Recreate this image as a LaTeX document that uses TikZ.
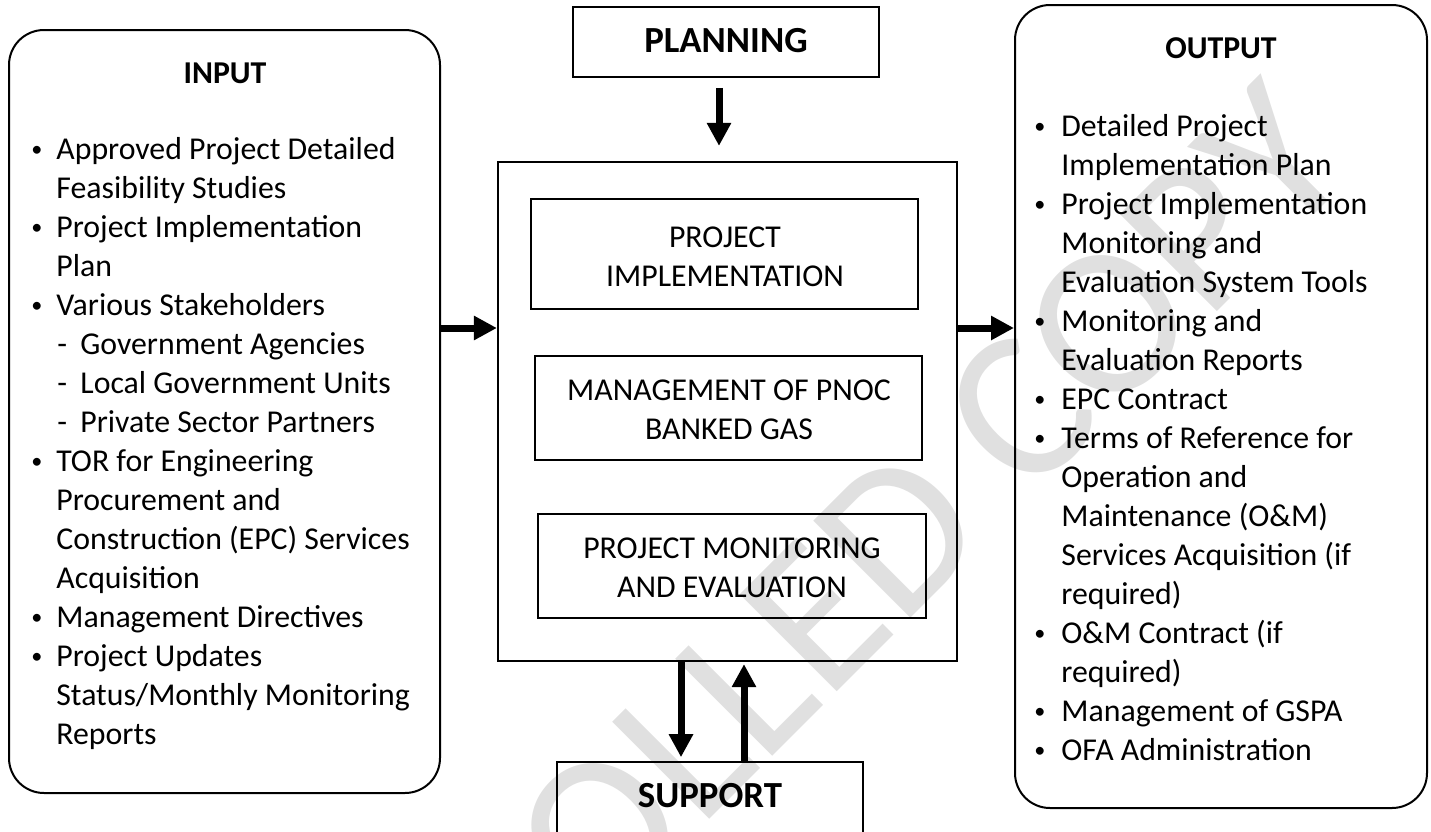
\documentclass[tikz,border=0pt]{standalone}
\usepackage{fontspec}
\setmainfont{Carlito}
\usetikzlibrary{arrows.meta,fit}
\definecolor{wm}{RGB}{224,224,224}
\begin{document}
\begin{tikzpicture}[x=0.5pt,y=-0.5pt,
  bodyfont/.style={font=\fontsize{15.9}{19.5}\selectfont},
  txt/.style={bodyfont, inner sep=0pt, anchor=base west},
  ctxt/.style={bodyfont, inner sep=0pt, anchor=base},
  bul/.style={font=\fontsize{11.1}{12}\selectfont, inner sep=0pt, anchor=base, yshift=1.5pt},
  headtxt/.style={font=\bfseries\fontsize{15.9}{19.5}\selectfont, inner sep=0pt, anchor=base},
  bigtxt/.style={font=\bfseries\fontsize{18.4}{22}\selectfont, inner sep=0pt, anchor=base},
  roundbox/.style={draw, line width=1pt, rounded corners=17.5pt, inner sep=0pt},
  mainbox/.style={draw, line width=1.1pt, inner sep=0pt},
  innerbox/.style={draw, line width=0.7pt, inner sep=0pt},
  labelbox/.style={draw, line width=0.8pt, inner sep=0pt},
  arr/.style={line width=3.5pt, -{Triangle[length=11.5pt,width=11.5pt]}},
]
\useasboundingbox (0,0) rectangle (1431,831);

% watermark
\node[text=wm, font=\fontsize{107}{107}\selectfont, rotate=45, inner sep=0pt, anchor=base west] (wmark) at (167,1362) {CONTROLLED COPY};

% boxes
\node[roundbox, fit={(9,30) (440,793)}] (input) {};
\node[roundbox, fit={(1015,5) (1427,808)}] (output) {};
\node[labelbox, fit={(573,7) (879,77)}] (planning) {};
\node[mainbox, fit={(498,162) (957,661)}] (main) {};
\node[innerbox, fit={(531,199) (918,309)}] (pi) {};
\node[innerbox, fit={(535,356) (922,460)}] (mg) {};
\node[innerbox, fit={(538,514) (926,618)}] (pm) {};
\node[labelbox, fit={(557,762) (863,850)}] (support) {};

% box labels
\node[bigtxt] (planningtxt) at (726,52) {PLANNING};
\node[bigtxt] (supporttxt) at (710,807) {SUPPORT};
\node[headtxt] (inputtxt) at (225,83) {INPUT};
\node[headtxt] (outputtxt) at (1221,58) {OUTPUT};
\node[ctxt] (pi1) at (725,247) {PROJECT};
\node[ctxt] (pi2) at (725,286) {IMPLEMENTATION};
\node[ctxt] (mg1) at (729,400) {MANAGEMENT OF PNOC};
\node[ctxt] (mg2) at (729,439) {BANKED GAS};
\node[ctxt] (pm1) at (732,558) {PROJECT MONITORING};
\node[ctxt] (pm2) at (732,597) {AND EVALUATION};

% input list
\foreach \y/\t [count=\i] in {159/{Approved Project Detailed},198/{Feasibility Studies},237/{Project Implementation},276/{Plan},315/{Various Stakeholders},471/{TOR for Engineering},510/{Procurement and},549/{Construction (EPC) Services},588/{Acquisition},627/{Management Directives},666/{Project Updates},705/{Status/Monthly Monitoring},744/{Reports}}
  \node[txt] (in\i) at (56,\y) {\t};
\foreach \y/\t [count=\i] in {354/{Government Agencies},393/{Local Government Units},432/{Private Sector Partners}}
  {\node[txt] (ind\i) at (57,\y) {-};
   \node[txt] (ins\i) at (80,\y) {\t};}
\foreach \y [count=\i] in {159,237,315,471,627,666}
  \node[bul] (inb\i) at (37,\y) {•};

% output list
\foreach \y/\t [count=\i] in {136/{Detailed Project},175/{Implementation Plan},214/{Project Implementation},253/{Monitoring and},292/{Evaluation System Tools},331/{Monitoring and},370/{Evaluation Reports},409/{EPC Contract},448/{Terms of Reference for},487/{Operation and},526/{Maintenance (O\&M)},565/{Services Acquisition (if},604/{required)},643/{O\&M Contract (if},682/{required)},721/{Management of GSPA},760/{OFA Administration}}
  \node[txt] (out\i) at (1061,\y) {\t};
\foreach \y [count=\i] in {136,214,331,409,448,643,721,760}
  \node[bul] (outb\i) at (1040,\y) {•};

% arrows
\coordinate (ay) at (0,328);
\coordinate (px) at (719,0);
\coordinate (dx) at (681,0);
\coordinate (ux) at (744,0);
\draw[arr] (input.east |- ay) -- (main.west |- ay);
\draw[arr] (main.east |- ay) -- (output.west |- ay);
\draw[arr, shorten <=5pt, shorten >=7.5pt] (planning.south -| px) -- (main.north -| px);
\draw[arr, shorten >=2pt] (main.south -| dx) -- (support.north -| dx);
\draw[arr, shorten >=1pt] (support.north -| ux) -- (main.south -| ux);
\end{tikzpicture}
\end{document}
